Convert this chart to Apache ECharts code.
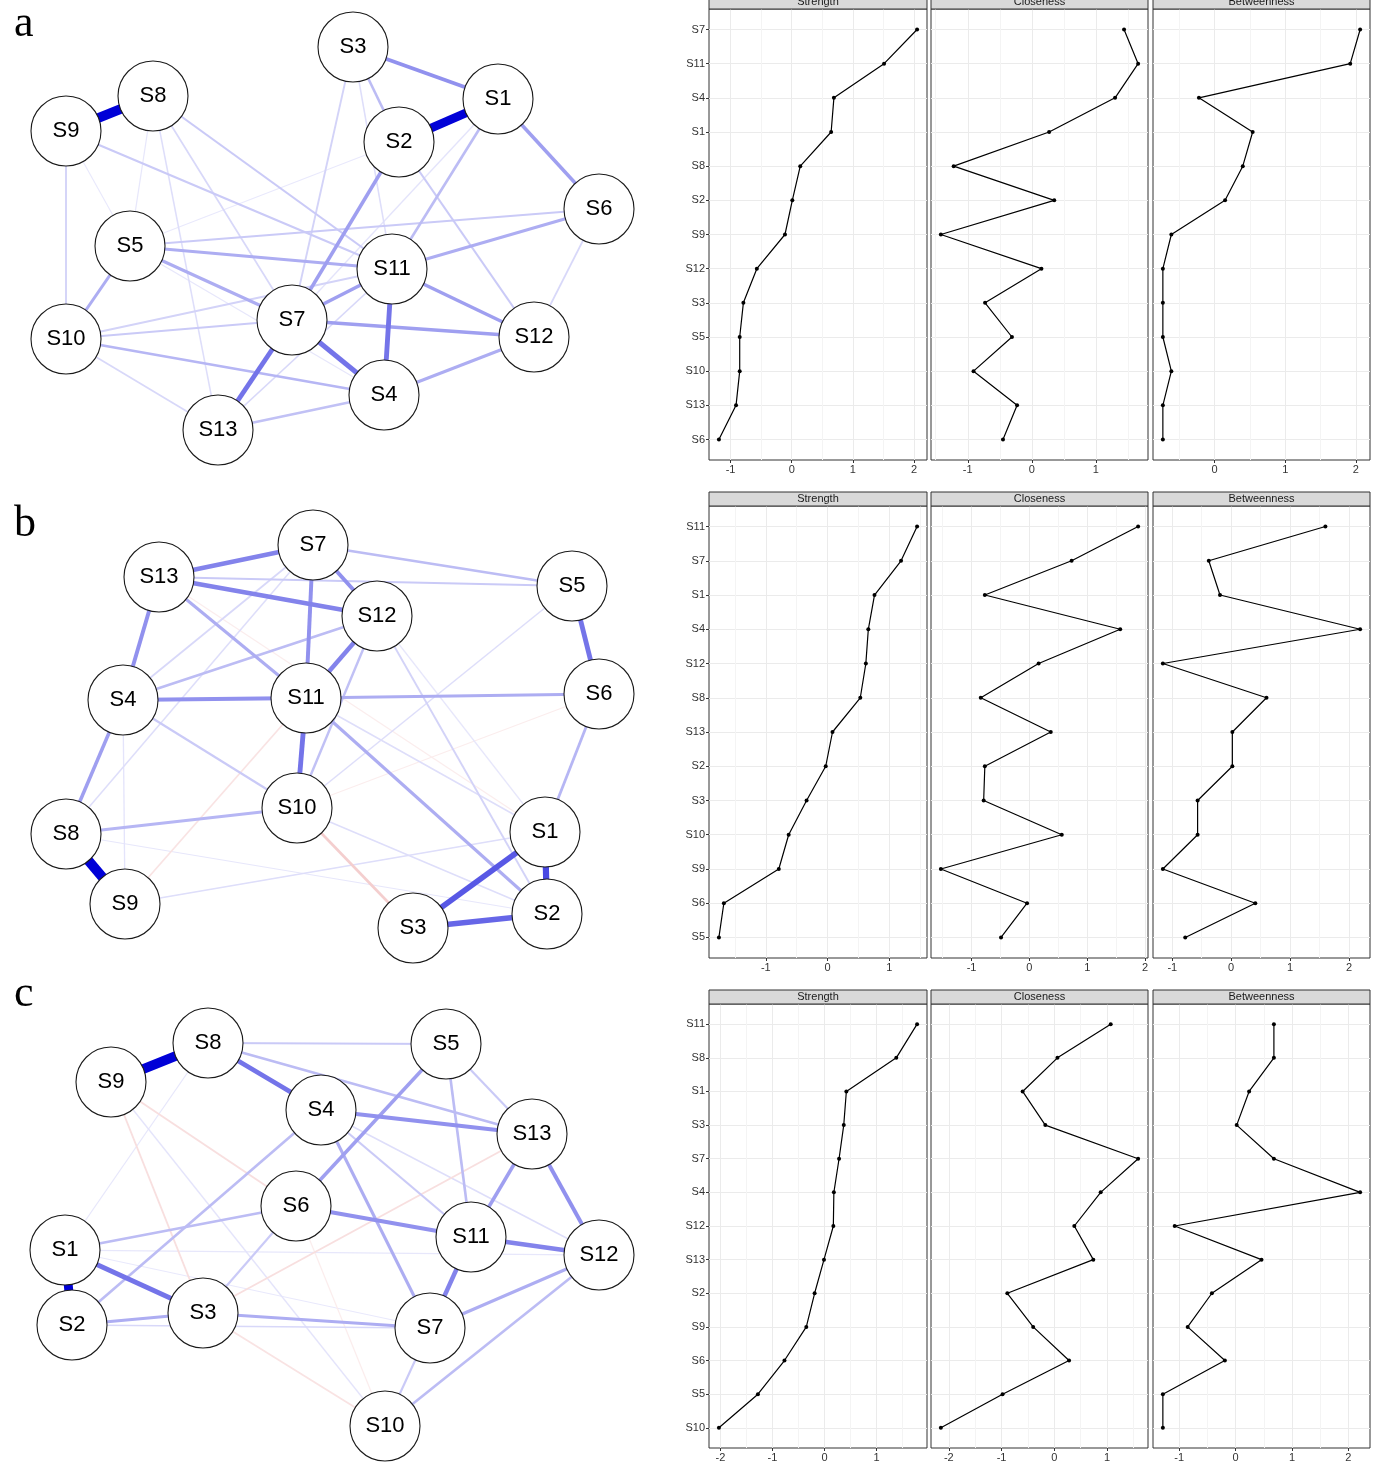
<!DOCTYPE html>
<html><head><meta charset="utf-8">
<script src="https://cdn.jsdelivr.net/npm/echarts@6/dist/echarts.min.js"></script>
<style>html,body{margin:0;padding:0;background:#fff}#c{width:1378px;height:1463px}</style>
</head><body><div id="c"></div><script>
// ---------- Network a ----------
const netA_nodes = ['S1','S2','S3','S4','S5','S6','S7','S8','S9','S10','S11','S12','S13'];
const netA_x = [498,399,353,384,130,599,292,153,66,66,392,534,218];
const netA_y = [99,142,47,395,246,209,320,96,131,339,269,337,430];
const netA_edges = [
  ['S8','S9',1.0],['S1','S2',0.85],['S3','S1',0.35],['S3','S2',0.2],['S3','S11',0.08],['S1','S6',0.3],
  ['S1','S11',0.2],['S2','S7',0.3],['S2','S12',0.15],['S3','S7',0.12],['S8','S11',0.15],['S8','S7',0.1],
  ['S8','S13',0.08],['S8','S5',0.05],['S9','S11',0.15],['S9','S10',0.12],['S9','S5',0.04],['S5','S11',0.25],
  ['S5','S6',0.15],['S5','S7',0.25],['S5','S10',0.25],['S5','S4',0.05],['S6','S11',0.25],['S6','S12',0.1],
  ['S11','S7',0.3],['S11','S12',0.3],['S11','S4',0.45],['S11','S10',0.12],['S7','S12',0.3],['S7','S4',0.45],
  ['S7','S13',0.45],['S7','S10',0.15],['S10','S4',0.22],['S10','S13',0.1],['S13','S4',0.18],['S12','S4',0.25],
  ['S11','S13',0.1],['S2','S5',0.04],['S1','S7',0.06]
];
// ---------- Network b ----------
const netB_nodes = ['S1','S2','S3','S4','S5','S6','S7','S8','S9','S10','S11','S12','S13'];
const netB_x = [545,547,413,123,572,599,313,66,125,297,306,377,159];
const netB_y = [342,424,438,210,96,204,55,344,414,318,208,126,87];
const netB_edges = [
  ['S8','S9',1.0],['S1','S3',0.55],['S3','S2',0.5],['S1','S2',0.6],['S5','S6',0.45],['S13','S7',0.4],
  ['S13','S12',0.4],['S7','S12',0.35],['S7','S11',0.35],['S12','S11',0.4],['S13','S4',0.35],['S13','S11',0.25],
  ['S13','S5',0.15],['S7','S5',0.2],['S4','S11',0.35],['S11','S6',0.25],['S11','S10',0.45],['S4','S8',0.3],
  ['S4','S12',0.2],['S4','S7',0.1],['S4','S10',0.15],['S8','S10',0.22],['S11','S2',0.25],['S12','S10',0.18],
  ['S12','S2',0.12],['S6','S1',0.22],['S10','S5',0.08],['S9','S1',0.08],['S10','S3',-0.2],['S9','S11',-0.1],
  ['S13','S1',-0.05],['S10','S2',0.08],['S4','S9',0.06],['S8','S7',0.08],['S11','S1',0.08],['S10','S6',-0.05],
  ['S8','S2',0.05],['S12','S1',0.05]
];
// ---------- Network c ----------
const netC_nodes = ['S1','S2','S3','S4','S5','S6','S7','S8','S9','S10','S11','S12','S13'];
const netC_x = [65,72,203,321,446,296,430,208,111,385,471,599,532];
const netC_y = [260,335,323,120,54,216,338,53,92,436,247,265,144];
const netC_edges = [
  ['S9','S8',1.0],['S8','S4',0.45],['S8','S5',0.15],['S8','S13',0.2],['S8','S1',0.05],['S9','S3',-0.12],
  ['S9','S6',-0.12],['S9','S10',0.06],['S5','S6',0.3],['S5','S13',0.15],['S5','S11',0.2],['S4','S13',0.35],
  ['S4','S7',0.25],['S4','S2',0.2],['S4','S11',0.15],['S4','S12',0.08],['S13','S12',0.35],['S13','S11',0.3],
  ['S13','S3',-0.12],['S6','S11',0.35],['S6','S1',0.2],['S6','S3',0.15],['S6','S10',-0.05],['S11','S12',0.4],
  ['S11','S7',0.4],['S1','S2',0.9],['S1','S3',0.45],['S1','S12',0.05],['S1','S7',0.04],['S2','S3',0.25],
  ['S2','S7',0.1],['S3','S7',0.25],['S3','S10',-0.1],['S7','S12',0.25],['S7','S10',0.15],['S12','S10',0.2]
];

// ---------- Centrality a ----------
const catsA = ['S7','S11','S4','S1','S8','S2','S9','S12','S3','S5','S10','S13','S6'];
const strengthA = [2.05,1.51,0.69,0.645,0.14,0.01,-0.11,-0.57,-0.79,-0.85,-0.85,-0.91,-1.19];
const closenessA = [1.44,1.66,1.30,0.27,-1.22,0.35,-1.42,0.15,-0.73,-0.31,-0.91,-0.23,-0.45];
const betweennessA = [2.06,1.92,-0.22,0.54,0.40,0.15,-0.61,-0.73,-0.73,-0.73,-0.61,-0.73,-0.73];
// ---------- Centrality b ----------
const catsB = ['S11','S7','S1','S4','S12','S8','S13','S2','S3','S10','S9','S6','S5'];
const strengthB = [1.45,1.19,0.76,0.66,0.62,0.53,0.08,-0.03,-0.34,-0.63,-0.79,-1.68,-1.76];
const closenessB = [1.88,0.73,-0.77,1.57,0.16,-0.84,0.37,-0.77,-0.79,0.56,-1.53,-0.04,-0.49];
const betweennessB = [1.60,-0.38,-0.19,2.19,-1.16,0.60,0.02,0.02,-0.57,-0.57,-1.16,0.41,-0.78];
// ---------- Centrality c ----------
const catsC = ['S11','S8','S1','S3','S7','S4','S12','S13','S2','S9','S6','S5','S10'];
const strengthC = [1.78,1.38,0.42,0.37,0.28,0.18,0.17,-0.01,-0.19,-0.35,-0.77,-1.28,-2.03];
const closenessC = [1.07,0.06,-0.60,-0.17,1.59,0.88,0.38,0.74,-0.89,-0.40,0.28,-0.98,-2.15];
const betweennessC = [0.68,0.68,0.24,0.02,0.68,2.21,-1.08,0.46,-0.42,-0.85,-0.19,-1.29,-1.29];

const panelTitles = ['Strength','Closeness','Betweenness'];
const panelLetters = ['a','b','c'];

// ---------- build ----------
const chart = echarts.init(document.getElementById('c'), null, {renderer:'canvas'});
const grid = [], xAxis = [], yAxis = [], series = [], graphic = [];

function edgeColor(w){
  const a = Math.min(1, 0.04 + 1.12*Math.abs(w));
  const base = w >= 0 ? [0,0,215] : [215,70,70];
  const c = base.map(v => Math.round(255*(1-a) + v*a));
  return 'rgb(' + c.join(',') + ')';
}

const nets = [
  {nodes:netA_nodes, xs:netA_x, ys:netA_y, edges:netA_edges},
  {nodes:netB_nodes, xs:netB_x, ys:netB_y, edges:netB_edges},
  {nodes:netC_nodes, xs:netC_x, ys:netC_y, edges:netC_edges}
];
const netBoxes = [{top:0,h:470},{top:490,h:490},{top:990,h:473}];
const letterTops = [2, 502, 972];

nets.forEach((net, k) => {
  const gi = grid.length;
  grid.push({left:0, top:netBoxes[k].top, width:680, height:netBoxes[k].h, show:false});
  xAxis.push({type:'value', gridIndex:gi, min:0, max:680, show:false});
  yAxis.push({type:'value', gridIndex:gi, min:0, max:netBoxes[k].h, inverse:true, show:false});
  series.push({
    type:'graph', coordinateSystem:'cartesian2d', xAxisIndex:xAxis.length-1, yAxisIndex:yAxis.length-1,
    data: net.nodes.map((n,i)=>({name:n, value:[net.xs[i], net.ys[i]]})),
    links: net.edges.slice().sort((p,q)=>Math.abs(p[2])-Math.abs(q[2])).map(e=>({
      source:e[0], target:e[1],
      lineStyle:{width:0.8+9*Math.abs(e[2]), color:edgeColor(e[2]), opacity:1, curveness:0}
    })),
    symbol:'circle', symbolSize:70,
    itemStyle:{color:'#fff', borderColor:'#1a1a1a', borderWidth:1.1},
    label:{show:true, position:'inside', fontSize:22, color:'#000', fontFamily:'Liberation Sans, Arial, sans-serif'},
    emphasis:{disabled:true}, silent:true, animation:false
  });
  graphic.push({type:'text', left:14, top:letterTops[k], z:10,
    style:{text:panelLetters[k], font:'44px "Liberation Serif", "DejaVu Serif", serif', fill:'#000'}});
});

const rows = [
  {cats:catsA, vals:[strengthA, closenessA, betweennessA]},
  {cats:catsB, vals:[strengthB, closenessB, betweennessB]},
  {cats:catsC, vals:[strengthC, closenessC, betweennessC]}
];
const colLeft = [709, 931, 1153], colW = [218, 217, 217];
const rowTop = [9, 506, 1004], rowH = [451, 452, 451];
const stripH = 14;
const axisFont = '"Liberation Sans Narrow", "Liberation Sans", Arial, sans-serif';

rows.forEach((row, r) => {
  const n = row.cats.length;
  const idx = row.cats.map((c,i)=>i);
  row.vals.forEach((vals, c) => {
    const gi = grid.length;
    const dmin = Math.min(...vals), dmax = Math.max(...vals);
    const pad = 0.05*(dmax - dmin);
    const mn = dmin - pad, mx = dmax + pad;
    const major = [], minor = [];
    for (let t = Math.ceil(mn); t <= mx; t++) major.push(t);
    for (let t = Math.ceil(mn - 0.5) + 0.5; t <= mx; t++) minor.push(t);
    grid.push({left:colLeft[c], top:rowTop[r], width:colW[c], height:rowH[r], show:true,
      borderColor:'#333', borderWidth:1, backgroundColor:'transparent', containLabel:false});
    const xMain = xAxis.length;
    xAxis.push({type:'value', gridIndex:gi, min:mn, max:mx, position:'bottom',
      axisLine:{show:false, onZero:false},
      axisTick:{show:true, length:3, lineStyle:{color:'#333'}, customValues:major},
      axisLabel:{show:true, customValues:major, fontSize:11, color:'#333', margin:4, fontFamily:axisFont,
        formatter:v=>String(Math.round(v))},
      splitLine:{show:true, lineStyle:{color:'#ebebeb', width:1}}
    });
    xAxis.push({type:'value', gridIndex:gi, min:mn, max:mx, position:'bottom',
      axisLine:{show:false, onZero:false}, axisTick:{show:false, customValues:minor}, axisLabel:{show:false},
      splitLine:{show:true, lineStyle:{color:'#f4f4f4', width:1}}
    });
    const yi = yAxis.length;
    yAxis.push({type:'value', gridIndex:gi, min:-0.6, max:n-1+0.6, inverse:true, position:'left',
      axisLine:{show:false, onZero:false},
      axisTick:{show:c===0, length:3, lineStyle:{color:'#333'}, customValues:idx},
      axisLabel:{show:c===0, customValues:idx, fontSize:11, color:'#333', margin:4, fontFamily:axisFont,
        formatter:v=>row.cats[Math.round(v)]},
      splitLine:{show:true, lineStyle:{color:'#ebebeb', width:1}}
    });
    series.push({type:'line', xAxisIndex:xMain, yAxisIndex:yi,
      data: vals.map((v,i)=>[v, i]),
      symbol:'circle', symbolSize:4, showSymbol:true,
      itemStyle:{color:'#000'}, lineStyle:{color:'#000', width:1.2},
      silent:true, animation:false, z:5});
    graphic.push({type:'rect', z:10,
      shape:{x:colLeft[c], y:rowTop[r]-stripH, width:colW[c], height:stripH},
      style:{fill:'#d9d9d9', stroke:'#333', lineWidth:1}});
    graphic.push({type:'text', z:11,
      x:colLeft[c]+colW[c]/2, y:rowTop[r]-stripH/2,
      style:{text:panelTitles[c], font:'11px ' + axisFont, fill:'#1a1a1a', align:'center', verticalAlign:'middle'}});
  });
});

chart.setOption({animation:false, backgroundColor:'#fff', grid, xAxis, yAxis, series, graphic});
</script></body></html>
